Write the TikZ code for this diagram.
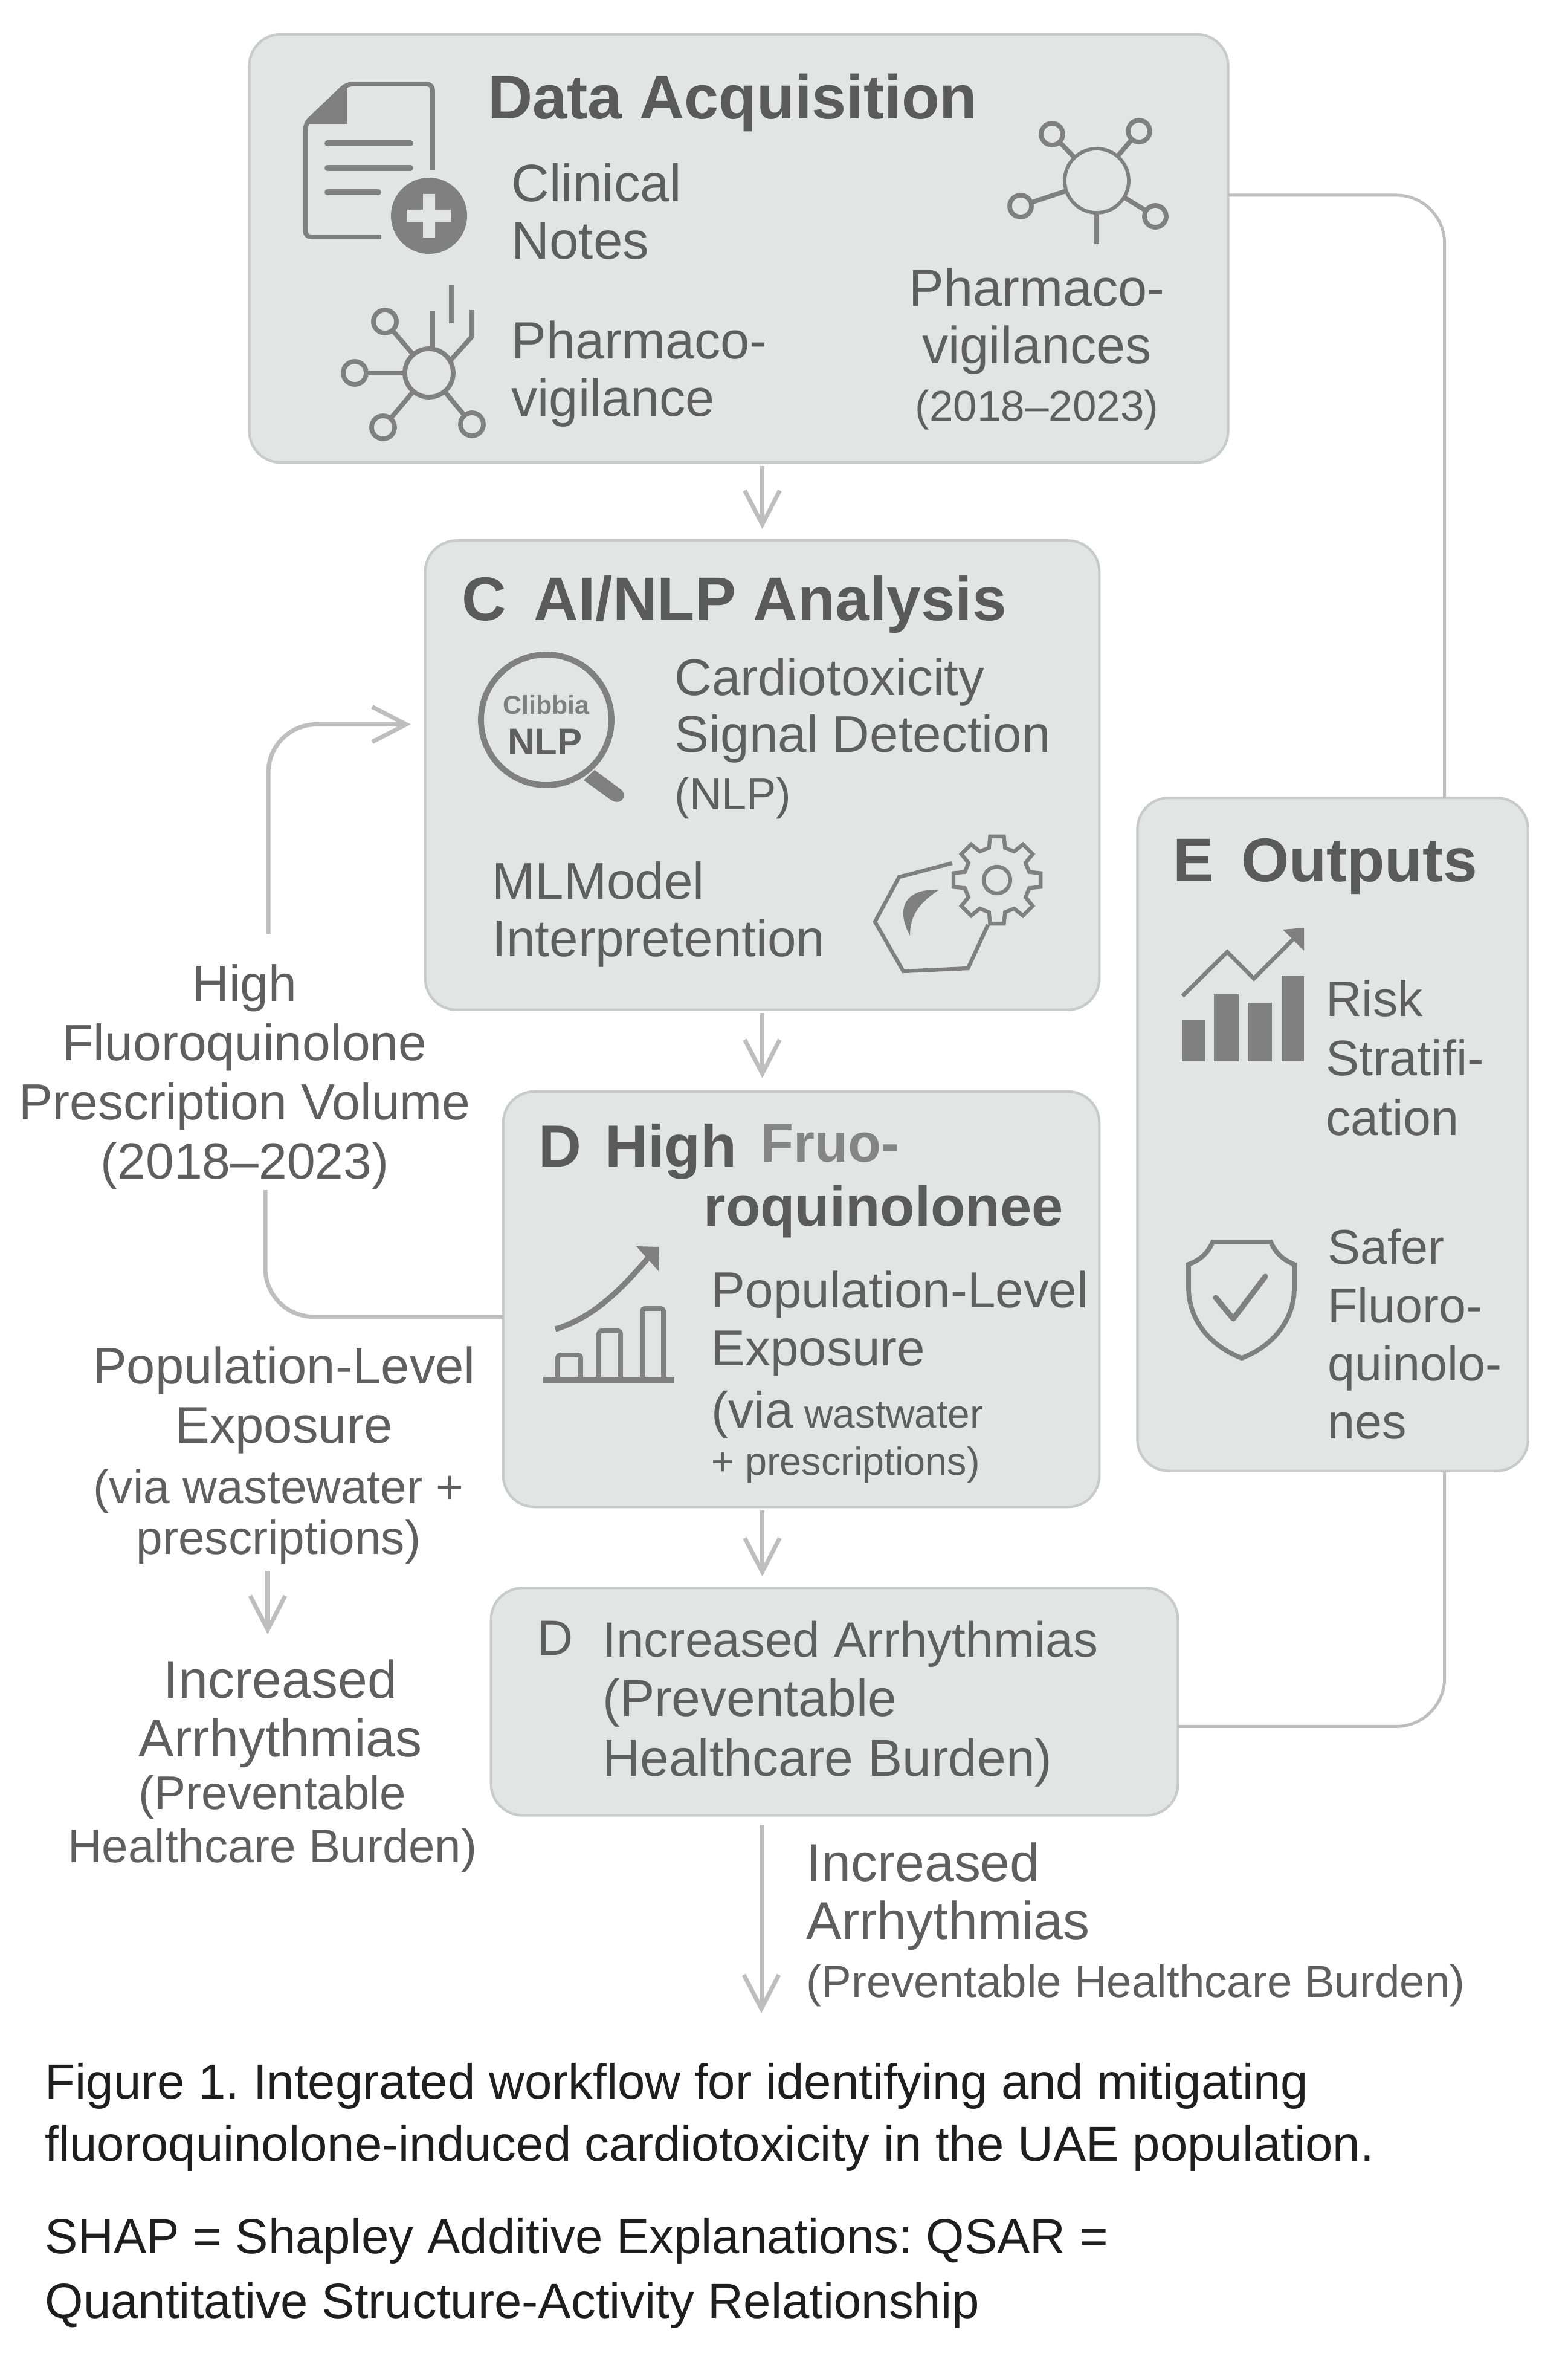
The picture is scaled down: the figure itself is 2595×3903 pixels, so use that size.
\documentclass[tikz,border=0pt]{standalone}
\usepackage{fontspec}
\setmainfont{Liberation Sans}
\usepackage{xcolor}
\usepackage{tikz}
\usetikzlibrary{arrows.meta,positioning}
\definecolor{panelfill}{HTML}{E3E4E4}
\definecolor{paneledge}{HTML}{C9CACA}
\definecolor{linkgray}{HTML}{BEBEBE}
\definecolor{icongray}{HTML}{808080}
\definecolor{bodygray}{HTML}{5F5F5F}
\definecolor{headgray}{HTML}{5A5A5A}
\definecolor{fruogray}{HTML}{858585}
\definecolor{notegray}{HTML}{1E1E1E}

\begin{document}
\begin{tikzpicture}[x=0.01cm,y=-0.01cm,>={Straight Barb[length=0.56cm,width=0.58cm]},
    panel/.style={draw=paneledge,fill=panelfill,line width=1.2pt,rounded corners=0.52cm,outer sep=0pt},
    headtext/.style={inner sep=0pt,text=headgray,align=left,font=\bfseries\fontsize{29}{33}\selectfont},
    bodytext/.style={inner sep=0pt,text=bodygray,align=left,font=\fontsize{24.3}{27}\selectfont},
    smalltext/.style={inner sep=0pt,text=bodygray,align=center,font=\fontsize{22.3}{24}\selectfont},
    linkline/.style={draw=linkgray,line width=2pt,rounded corners=0.8cm},
    thinline/.style={draw=linkgray,line width=1.4pt,rounded corners=0.8cm},
    iconline/.style={draw=icongray,line width=2.2pt}]
      \frenchspacing
      \useasboundingbox (0,0) rectangle (2595,3903);

      % Panels: placed one under the other
      \node[panel,minimum width=16.19cm,minimum height=7.08cm] (acq) at (1222.5,411) {};
      \node[panel,minimum width=11.15cm,minimum height=7.76cm,below=1.29cm of acq,xshift=0.39cm] (nlp) {};
      \node[panel,minimum width=9.86cm,minimum height=6.87cm,below=1.35cm of nlp,xshift=0.645cm] (drug) {};
      \node[panel,minimum width=11.36cm,minimum height=3.76cm,below=1.34cm of drug,xshift=0.55cm] (hosp) {};
      \node[panel,minimum width=6.46cm,minimum height=11.13cm,right=0.63cm of nlp,yshift=-5.94cm] (out) {};

      % Data acquisition panel
      \node[headtext,font=\bfseries\fontsize{29.2}{33}\selectfont,below right=0.65cm and 3.94cm of acq.north west] (acqhead) {Data Acquisition};
      \node[bodytext,below right=2.13cm and 4.33cm of acq.north west,font=\fontsize{24.8}{27}\selectfont] (clin) {Clinical\\Notes};
      \node[bodytext,below right=4.73cm and 4.33cm of acq.north west,font=\fontsize{24.6}{27}\selectfont] (pharm) {Pharmaco-\\vigilance};
      \node[bodytext,align=center,below left=3.86cm and 1.04cm of acq.north east,font=\fontsize{24.6}{27}\selectfont] (pharms) {Pharmaco-\\vigilances\\{\fontsize{20.2}{27}\selectfont (2018--2023)}};

      % Document icon
      \draw[iconline,rounded corners=0.1cm] (631,392) -- (505,392) -- (505,205) -- (574,139) -- (716,139) -- (716,282);
      \fill[icongray] (574,139) -- (505,205) -- (574,205) -- cycle;
      \foreach \yy/\xx in {237/679,278/679,318/626}
        \draw[icongray,line width=2.8pt,line cap=round] (542,\yy) -- (\xx,\yy);
      \fill[icongray] (710,357) circle[radius=63];
      \fill[panelfill] (674,347) rectangle (746,367) (700,321) rectangle (720,393);

      % Network icon, right
      \draw[iconline] (1815,299) circle[radius=52];
      \foreach \xx/\yy in {1741/222,1885/217,1689/341,1912/358} {
        \draw[iconline] (1815,299) -- (\xx,\yy);
        \draw[iconline,fill=panelfill] (\xx,\yy) circle[radius=18];
      }
      \fill[panelfill] (1815,299) circle[radius=50];
      \draw[iconline] (1815,351) -- (1815,404);

      % Network icon, left
      \foreach \xx/\yy in {637/532,587/617,634/707,781/702} {
        \draw[iconline] (710,617) -- (\xx,\yy);
        \draw[iconline,fill=panelfill] (\xx,\yy) circle[radius=19];
      }
      \draw[iconline,fill=panelfill] (710,617) circle[radius=40];
      \draw[iconline] (716,577) -- (716,515);
      \draw[iconline] (747,535) -- (747,472);
      \draw[iconline] (781,513) -- (781,557) -- (745,597);

      % AI/NLP panel
      \node[headtext,below right=0.58cm and 0.60cm of nlp.north west] (nlphead) {C\hspace{0.45em}AI/NLP Analysis};
      \node[bodytext,below right=1.93cm and 4.12cm of nlp.north west] (signal) {Cardiotoxicity\\Signal Detection\\{\fontsize{21}{27}\selectfont (NLP)}};
      \node[bodytext,below right=5.30cm and 1.10cm of nlp.north west] (mlm) {MLModel\\Interpretention};

      % Magnifier icon
      \draw[icongray,line width=2.8pt] (904,1191) circle[radius=108];
      \node[inner sep=0pt,text=icongray,font=\bfseries\fontsize{12.2}{13}\selectfont] (clib) at (904,1166) {Clibbia};
      \node[inner sep=0pt,text=bodygray,font=\bfseries\fontsize{17.5}{18}\selectfont] (nlptag) at (902,1227) {NLP};
      \fill[icongray] (966,1291) -- (984,1274) -- (1030,1308) .. controls (1038,1322) and (1024,1332) .. (1012,1324) -- cycle;

      % Gear icon
      \draw[icongray,line width=1.8pt] (1576,1428) -- (1488,1451) -- (1448,1525) -- (1495,1607) -- (1602,1602) -- (1635,1530);
      \fill[icongray] (1554,1472) .. controls (1490,1470) and (1485,1510) .. (1506,1548) .. controls (1506,1515) and (1520,1495) .. cycle;
      \begin{scope}[shift={(1650,1456)}]
        \draw[icongray,line width=1.8pt,fill=panelfill] (-14:55) \foreach \a in {0,45,...,315} { -- (\a-14:55) -- (\a-9:73) -- (\a+9:73) -- (\a+14:55) } -- cycle;
        \draw[icongray,line width=1.8pt] (0,0) circle[radius=22];
      \end{scope}

      % Drug panel
      \node[headtext,below right=0.53cm and 0.58cm of drug.north west,font=\bfseries\fontsize{27.9}{33}\selectfont] (drughead) {D\hspace{0.4em}High\hspace{0.4em}\raisebox{0.08cm}{\color{fruogray}\fontsize{25.6}{30}\selectfont Fruo-}};
      \node[headtext,below right=1.54cm and 3.31cm of drug.north west,font=\bfseries\fontsize{26.7}{33}\selectfont] (drugtail) {roquinolonee};
      \node[bodytext,below right=2.96cm and 3.44cm of drug.north west,font=\fontsize{23.8}{27.3}\selectfont] (pop) {Population-Level\\Exposure};
      \node[bodytext,below right=4.95cm and 3.44cm of drug.north west,font=\fontsize{24}{21.6}\selectfont] (popvia) {(via\hspace{-0.06cm} {\fontsize{18.7}{21.6}\selectfont wastwater}\\[0.02cm]{\fontsize{18.4}{21.6}\selectfont + prescriptions)}};

      % Bars and rising arrow
      \draw[icongray,line width=2.6pt] (899,2283) -- (1116,2283);
      \foreach \xa/\xb/\yy in {923/961/2242,991/1027/2202,1063/1098/2165}
        \draw[iconline,rounded corners=0.04cm] (\xa,2283) -- (\xa,\yy) -- (\xb,\yy) -- (\xb,2283);
      \draw[icongray,line width=2.6pt] (919,2199) .. controls (985,2180) and (1035,2125) .. (1072,2082);
      \fill[icongray] (1053,2062) -- (1091,2063) -- (1090,2103) -- cycle;

      % Outputs panel
      \node[headtext,below right=0.67cm and 0.58cm of out.north west] (outhead) {E\hspace{0.44em}Outputs};
      \node[bodytext,below right=3.01cm and 3.11cm of out.north west,font=\fontsize{23.5}{27.9}\selectfont] (risk) {Risk\\Stratifi-\\cation};
      \node[bodytext,below right=7.12cm and 3.14cm of out.north west,font=\fontsize{23}{27.4}\selectfont] (safer) {Safer\\Fluoro-\\quinolo-\\nes};

      % Risk chart icon
      \foreach \xa/\xb/\yy in {1956/1994/1688,2009/2050/1645,2065/2105/1659,2121/2158/1614}
        \fill[icongray] (\xa,1756) rectangle (\xb,\yy);
      \draw[icongray,line width=1.9pt] (1957,1648) -- (2031,1575) -- (2075,1619) -- (2142,1552);
      \fill[icongray] (2123,1538) -- (2158,1535) -- (2158,1573) -- cycle;

      % Shield icon
      \draw[icongray,line width=2.2pt] (2007,2055) -- (2103,2055) .. controls (2112,2075) and (2125,2085) .. (2142,2092) -- (2142,2130) .. controls (2142,2190) and (2100,2230) .. (2055,2247) .. controls (2010,2230) and (1967,2190) .. (1967,2130) -- (1967,2092) .. controls (1985,2085) and (1998,2075) .. cycle;
      \draw[icongray,line width=2.6pt,line cap=round,line join=round] (2012,2147) -- (2041,2182) -- (2094,2112);

      % Last panel
      \node[bodytext,below right=0.54cm and 0.76cm of hosp.north west,font=\fontsize{23.3}{28}\selectfont] (hospd) {D};
      \node[bodytext,below right=0.54cm and 1.84cm of hosp.north west,font=\fontsize{23.3}{28}\selectfont] (hosptxt) {Increased Arrhythmias\\{\fontsize{24.4}{28}\selectfont (Preventable}\\{\fontsize{24.4}{28}\selectfont Healthcare Burden)}};

      % Texts outside the panels
      \node[smalltext,font=\fontsize{23.9}{27.9}\selectfont,anchor=north] (hfq) at (405,1595) {High\\Fluoroquinolone\\Prescription Volume\\(2018--2023)};
      \node[smalltext,font=\fontsize{24.2}{27.9}\selectfont,anchor=north] (popl) at (470,2227) {Population-Level\\Exposure};
      \node[smalltext,anchor=north] (popn) at (461,2430) {(via wastewater +\\prescriptions)};
      \node[smalltext,font=\fontsize{25}{27.6}\selectfont,anchor=north] (incl) at (464,2745) {Increased\\Arrhythmias};
      \node[smalltext,anchor=north,font=\fontsize{22.2}{25}\selectfont] (incn) at (451,2936) {(Preventable\\Healthcare Burden)};
      \node[bodytext,font=\fontsize{25}{27.3}\selectfont,anchor=north west] (incr) at (1334,3048) {Increased\\Arrhythmias\\{\fontsize{21.2}{27.3}\selectfont (Preventable Healthcare Burden)}};

      % Arrows between the panels
      \coordinate (tail) at (1260,3331);
      \draw[->,linkline,shorten <=0.06cm,shorten >=0.19cm] (nlp.north |- acq.south) -- (nlp.north);
      \draw[->,linkline,shorten <=0.05cm,shorten >=0.22cm] (nlp.south) -- (nlp.south |- drug.north);
      \draw[->,linkline,shorten <=0.06cm,shorten >=0.19cm] (nlp.south |- drug.south) -- (nlp.south |- hosp.north);
      \draw[->,linkline,shorten <=0.15cm] (tail |- hosp.south) -- (tail);
      \draw[->,linkline,shorten <=0.1cm,shorten >=0.41cm] ([xshift=-0.18cm]popn.south) -- ([xshift=-0.18cm]popn.south |- incl.north);

      % Lines round the panels
      \draw[thinline] ([yshift=0.88cm]acq.east) -| ([xshift=1.85cm]out.north);
      \draw[thinline] ([xshift=1.85cm]out.south) |- ([yshift=-0.41cm]hosp.east);
      \draw[linkline] ([yshift=-0.29cm]drug.west) -| ([xshift=0.34cm]hfq.south);
      \draw[->,linkline,shorten <=0.5cm,shorten >=0.24cm] ([xshift=0.39cm]hfq.north) |- ([yshift=0.84cm]nlp.west);

      % Caption
      \node[inner sep=0pt,text=notegray,align=left,font=\fontsize{23.2}{29.3}\selectfont,anchor=north west] (capa) at (74,3413) {Figure 1. Integrated workflow for identifying and mitigating\\fluoroquinolone-induced cardiotoxicity in the UAE population.};
      \node[inner sep=0pt,text=notegray,align=left,font=\fontsize{23.2}{30.3}\selectfont,anchor=north west] (capb) at (74,3669) {SHAP = Shapley Additive Explanations: QSAR =\\Quantitative Structure-Activity Relationship};

    \end{tikzpicture}
\end{document}
